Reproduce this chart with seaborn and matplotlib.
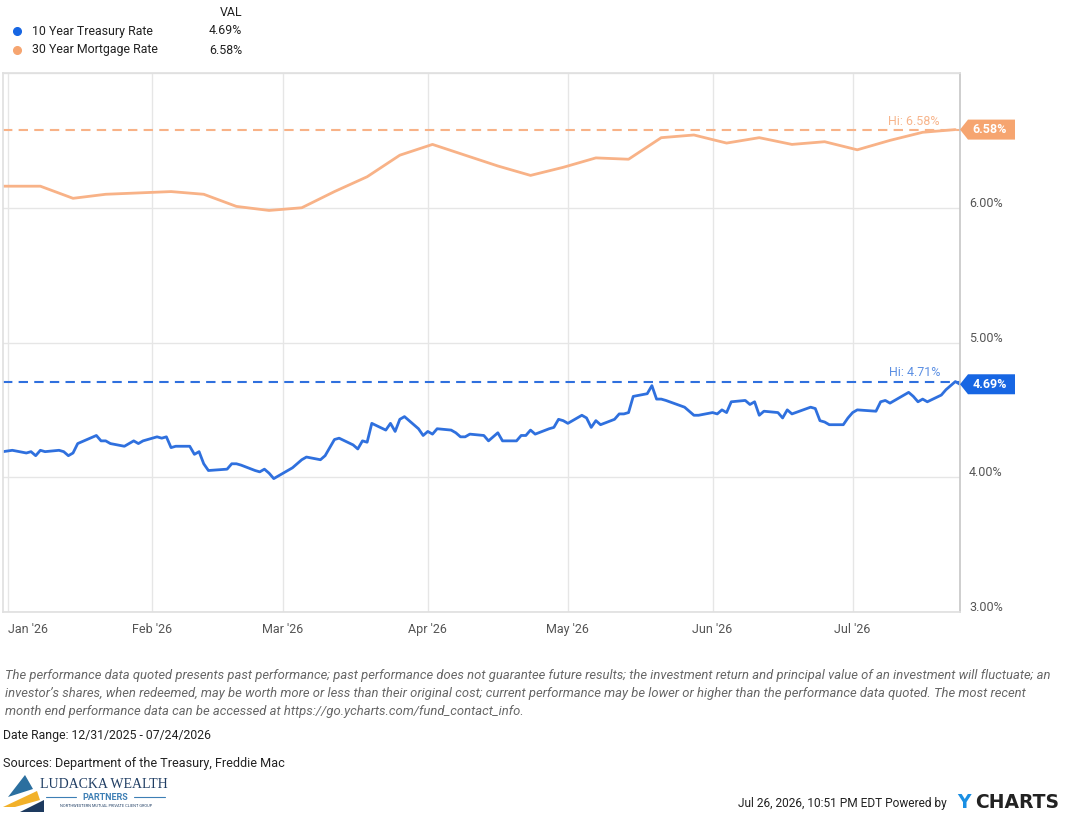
import matplotlib
matplotlib.use("Agg")
import matplotlib.pyplot as plt
import matplotlib.transforms as mtransforms
from matplotlib.patches import Polygon
from matplotlib.lines import Line2D
import pandas as pd
import seaborn as sns

# 10 year treasury rate, daily
treasury_dates = [
    "2025-12-31", "2026-01-02", "2026-01-05", "2026-01-06", "2026-01-07", "2026-01-08", "2026-01-09",
    "2026-01-12", "2026-01-13", "2026-01-14", "2026-01-15", "2026-01-16", "2026-01-20", "2026-01-21",
    "2026-01-22", "2026-01-23", "2026-01-26", "2026-01-27", "2026-01-28", "2026-01-29", "2026-01-30",
    "2026-02-02", "2026-02-03", "2026-02-04", "2026-02-05", "2026-02-06", "2026-02-09", "2026-02-10",
    "2026-02-11", "2026-02-12", "2026-02-13", "2026-02-17", "2026-02-18", "2026-02-19", "2026-02-20",
    "2026-02-23", "2026-02-24", "2026-02-25", "2026-02-26", "2026-02-27", "2026-03-02", "2026-03-03",
    "2026-03-04", "2026-03-05", "2026-03-06", "2026-03-09", "2026-03-10", "2026-03-11", "2026-03-12",
    "2026-03-13", "2026-03-16", "2026-03-17", "2026-03-18", "2026-03-19", "2026-03-20", "2026-03-23",
    "2026-03-24", "2026-03-25", "2026-03-26", "2026-03-27", "2026-03-30", "2026-03-31", "2026-04-01",
    "2026-04-02", "2026-04-03", "2026-04-06", "2026-04-07", "2026-04-08", "2026-04-09", "2026-04-10",
    "2026-04-13", "2026-04-14", "2026-04-15", "2026-04-16", "2026-04-17", "2026-04-20", "2026-04-21",
    "2026-04-22", "2026-04-23", "2026-04-24", "2026-04-27", "2026-04-28", "2026-04-29", "2026-04-30",
    "2026-05-01", "2026-05-04", "2026-05-05", "2026-05-06", "2026-05-07", "2026-05-08", "2026-05-11",
    "2026-05-12", "2026-05-13", "2026-05-14", "2026-05-15", "2026-05-18", "2026-05-19", "2026-05-20",
    "2026-05-21", "2026-05-22", "2026-05-26", "2026-05-27", "2026-05-28", "2026-05-29", "2026-06-01",
    "2026-06-02", "2026-06-03", "2026-06-04", "2026-06-05", "2026-06-08", "2026-06-09", "2026-06-10",
    "2026-06-11", "2026-06-12", "2026-06-15", "2026-06-16", "2026-06-17", "2026-06-18", "2026-06-22",
    "2026-06-23", "2026-06-24", "2026-06-25", "2026-06-26", "2026-06-29", "2026-06-30", "2026-07-01",
    "2026-07-02", "2026-07-06", "2026-07-07", "2026-07-08", "2026-07-09", "2026-07-10", "2026-07-13",
    "2026-07-14", "2026-07-15", "2026-07-16", "2026-07-17", "2026-07-20", "2026-07-21", "2026-07-22",
    "2026-07-23", "2026-07-24",
]
treasury_vals = [
    4.19, 4.20, 4.18, 4.19, 4.16, 4.20, 4.19,
    4.20, 4.19, 4.16, 4.18, 4.25, 4.31, 4.27,
    4.27, 4.25, 4.23, 4.25, 4.27, 4.25, 4.27,
    4.30, 4.29, 4.30, 4.22, 4.23, 4.23, 4.17,
    4.19, 4.10, 4.05, 4.06, 4.10, 4.10, 4.09,
    4.05, 4.04, 4.06, 4.03, 3.99, 4.05, 4.07,
    4.10, 4.13, 4.15, 4.13, 4.16, 4.22, 4.28,
    4.29, 4.24, 4.21, 4.27, 4.26, 4.40, 4.35,
    4.40, 4.34, 4.43, 4.45, 4.36, 4.31, 4.34,
    4.32, 4.36, 4.35, 4.33, 4.30, 4.30, 4.32,
    4.31, 4.27, 4.30, 4.33, 4.27, 4.27, 4.31,
    4.31, 4.35, 4.32, 4.36, 4.37, 4.43, 4.42,
    4.40, 4.46, 4.44, 4.37, 4.42, 4.39, 4.43,
    4.47, 4.47, 4.48, 4.60, 4.62, 4.68, 4.58,
    4.58, 4.57, 4.52, 4.49, 4.46, 4.46, 4.48,
    4.47, 4.50, 4.48, 4.56, 4.57, 4.54, 4.56,
    4.46, 4.49, 4.48, 4.44, 4.50, 4.47, 4.52,
    4.51, 4.42, 4.41, 4.39, 4.39, 4.44, 4.48,
    4.50, 4.49, 4.56, 4.57, 4.55, 4.57, 4.63,
    4.60, 4.56, 4.58, 4.56, 4.61, 4.65, 4.68,
    4.71, 4.69,
]

# 30 year mortgage rate, weekly
mortgage_dates = [
    "2025-12-31", "2026-01-08", "2026-01-15", "2026-01-22", "2026-01-29", "2026-02-05",
    "2026-02-12", "2026-02-19", "2026-02-26", "2026-03-05", "2026-03-12", "2026-03-19",
    "2026-03-26", "2026-04-02", "2026-04-09", "2026-04-16", "2026-04-23", "2026-04-30",
    "2026-05-07", "2026-05-14", "2026-05-21", "2026-05-28", "2026-06-04", "2026-06-11",
    "2026-06-18", "2026-06-25", "2026-07-02", "2026-07-09", "2026-07-16", "2026-07-23",
]
mortgage_vals = [
    6.16, 6.16, 6.07, 6.10, 6.11, 6.12,
    6.10, 6.01, 5.98, 6.00, 6.12, 6.23,
    6.39, 6.47, 6.39, 6.31, 6.24, 6.30,
    6.37, 6.36, 6.52, 6.54, 6.48, 6.52,
    6.47, 6.49, 6.43, 6.50, 6.56, 6.58,
]

series_names = ["10 Year Treasury Rate", "30 Year Mortgage Rate"]
month_ticks = ["2026-01-01", "2026-02-01", "2026-03-01", "2026-04-01",
               "2026-05-01", "2026-06-01", "2026-07-01"]
month_labels = ["Jan '26", "Feb '26", "Mar '26", "Apr '26", "May '26", "Jun '26", "Jul '26"]
rate_ticks = [3, 4, 5, 6, 7]
rate_labels = ["3.00%", "4.00%", "5.00%", "6.00%", ""]

BLUE = "#2f70de"
BLUE_TAG = "#1766e3"
BLUE_HI = "#5b8fe3"
ORANGE = "#f8b287"
ORANGE_TAG = "#f6a570"
ORANGE_HI = "#f7b58c"

W, H = 1065, 814
sns.set_theme(style="white")
plt.rcParams["font.family"] = ["Roboto", "DejaVu Sans"]

fig = plt.figure(figsize=(W / 100, H / 100), dpi=100)
# pixel coords measured from the top-left of the picture
px = mtransforms.Affine2D().scale(1 / W, -1 / H).translate(0, 1) + fig.transFigure

ax = fig.add_axes([3 / W, 1 - 612 / H, (960 - 3) / W, (612 - 73) / H])

tre = pd.DataFrame({"date": pd.to_datetime(treasury_dates), "rate": treasury_vals})
mor = pd.DataFrame({"date": pd.to_datetime(mortgage_dates), "rate": mortgage_vals})

sns.lineplot(data=mor, x="date", y="rate", color=ORANGE, linewidth=2, ax=ax, legend=False)
sns.lineplot(data=tre, x="date", y="rate", color=BLUE, linewidth=2, ax=ax, legend=False)

ax.set_xlim(pd.Timestamp("2025-12-31"), pd.Timestamp("2026-07-24"))
ax.set_ylim(3, 7)
ax.set_xlabel("")
ax.set_ylabel("")

ax.set_xticks(pd.to_datetime(month_ticks))
ax.set_xticklabels(month_labels)
ax.set_yticks(rate_ticks)
ax.set_yticklabels(rate_labels)
ax.yaxis.tick_right()
ax.tick_params(axis="x", length=0, pad=8, labelsize=9, labelcolor="#555555")
ax.tick_params(axis="y", length=0, pad=6.5, labelsize=9, labelcolor="#555555")
ax.get_xticklabels()[0].set_ha("left")
up = mtransforms.ScaledTranslation(0, 6 / 100, fig.dpi_scale_trans)
for lab in ax.get_yticklabels():
    lab.set_transform(lab.get_transform() + up)

ax.grid(True, color="#e6e6e6", linewidth=1)
for side in ["top", "bottom", "left"]:
    ax.spines[side].set_color("#e0e0e0")
ax.spines["right"].set_color("#c8c8c8")

# high lines, high labels and last value tags
blend = mtransforms.blended_transform_factory(ax.transAxes, ax.transData)
for vals, line_c, hi_c, tag_c in [(mortgage_vals, ORANGE, ORANGE_HI, ORANGE_TAG),
                                  (treasury_vals, BLUE, BLUE_HI, BLUE_TAG)]:
    hi = max(vals)
    ax.axhline(hi, color=line_c, linewidth=1.5, linestyle=(0, (4.5, 3)))
    ax.annotate(f"Hi: {hi:.2f}%", xy=(0.979, hi), xycoords=blend, xytext=(0, 1.5),
                textcoords="offset points", ha="right", va="bottom", fontsize=9, color=hi_c)
    tx, ty = blend.transform((1.0, vals[-1]))
    shape = [(tx, ty), (tx + 8, ty + 10), (tx + 55, ty + 10), (tx + 55, ty - 10), (tx + 8, ty - 10)]
    fig.add_artist(Polygon(shape, closed=True, facecolor=tag_c, edgecolor="none",
                           transform=mtransforms.IdentityTransform(), clip_on=False))
    fig.text(tx + 30, ty, f"{vals[-1]:.2f}%", transform=mtransforms.IdentityTransform(),
             ha="center", va="center", fontsize=9, color="white", fontweight="bold")

# legend block on top
fig.text(242, 12, "VAL", transform=px, ha="right", va="center", fontsize=8.9, color="#222222")
legend_rows = [(series_names[0], treasury_vals[-1], BLUE_TAG, 31),
               (series_names[1], mortgage_vals[-1], ORANGE_TAG, 50)]
for name, last, c, yy in legend_rows:
    fig.add_artist(Line2D([17], [yy], marker="o", markersize=5.5, color=c, linestyle="none",
                          transform=px))
    fig.text(32, yy, name, transform=px, ha="left", va="center", fontsize=8.9, color="#222222")
    fig.text(242, yy, f"{last:.2f}%", transform=px, ha="right", va="center", fontsize=8.9,
             color="#222222")

# footer
note = [
    "The performance data quoted presents past performance; past performance does not guarantee future results; the investment return and principal value of an investment will fluctuate; an",
    "investor\u2019s shares, when redeemed, may be worth more or less than their original cost; current performance may be lower or higher than the performance data quoted. The most recent",
    "month end performance data can be accessed at https://go.ycharts.com/fund_contact_info.",
]
for i, line in enumerate(note):
    fig.text(5, 675 + 18 * i, line, transform=px, ha="left", va="center", fontsize=9.35,
             style="italic", color="#666666")
fig.text(3, 736, "Date Range: 12/31/2025 - 07/24/2026", transform=px, ha="left", va="center",
         fontsize=8.85, color="#222222")
fig.text(3, 764, "Sources: Department of the Treasury, Freddie Mac", transform=px, ha="left",
         va="center", fontsize=9.05, color="#222222")

# logo, bottom left
for pts, c in [([(8, 797), (25, 775), (33, 789)], "#2b6f9f"),
               ([(3, 807), (37, 791), (40, 800), (15, 807)], "#f2b12a"),
               ([(20, 812), (44, 800), (44, 812)], "#1d3a5f")]:
    fig.add_artist(Polygon(pts, closed=True, facecolor=c, edgecolor="none", transform=px))
fig.text(104, 785, "LUDACKA WEALTH", transform=px, ha="center", va="center", fontsize=10,
         family="Liberation Serif", color="#1f3d63")
fig.text(105, 797, "PARTNERS", transform=px, ha="center", va="center", fontsize=6.5,
         fontweight="bold", color="#3d7fb5")
for xs in [(46, 76), (134, 165)]:
    fig.add_artist(Line2D(xs, [797, 797], color="#3d7fb5", linewidth=0.8, transform=px))
fig.text(106, 806, "NORTHWESTERN MUTUAL PRIVATE CLIENT GROUP", transform=px, ha="center",
         va="center", fontsize=2.8, color="#1f3d63")

# stamp, bottom right
fig.text(947, 803, "Jul 26, 2026, 10:51 PM EDT Powered by", transform=px, ha="right",
         va="center", fontsize=8.6, color="#222222")
fig.text(971, 803, "Y", transform=px, ha="right", va="center", fontsize=13.5,
         fontweight="bold", family="DejaVu Sans", color="#1a8fe3")
fig.text(1059, 803, "CHARTS", transform=px, ha="right", va="center", fontsize=13.5,
         fontweight="bold", family="DejaVu Sans", color="#222222")

fig.savefig("out.png", dpi=100)
